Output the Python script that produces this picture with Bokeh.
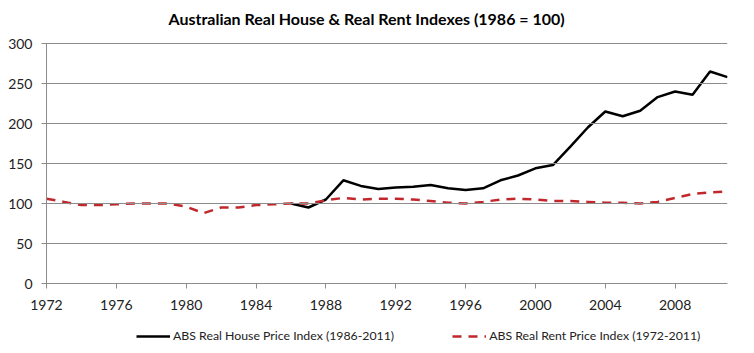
from bokeh.plotting import figure
from bokeh.models import Range1d, FixedTicker, Legend, LegendItem, LinearAxis
from bokeh.embed import file_html
from bokeh.resources import INLINE

house_years = list(range(1986, 2012))
house_index = [100, 95, 105, 129, 122, 118, 120, 121, 123, 119, 117, 119, 129, 135,
               144, 148, 171, 195, 215, 209, 216, 233, 240, 236, 265, 258]

rent_years = list(range(1972, 2012))
rent_index = [106, 102, 98, 98, 99, 100, 100, 100, 96, 88, 95, 95, 98, 99,
              100, 100, 104, 107, 105, 106, 106, 105, 103, 101, 100, 102, 105, 106,
              105, 103, 103, 102, 101, 101, 100, 102, 107, 112, 114, 115]

x_ticks = [1972, 1976, 1980, 1984, 1988, 1992, 1996, 2000, 2004, 2008]
y_ticks = [0, 50, 100, 150, 200, 250, 300]

title_text = "Australian Real House & Real Rent Indexes (1986 = 100)"
house_label = "ABS Real House Price Index (1986-2011)"
rent_label = "ABS Real Rent Price Index (1972-2011)"

FONT = "Lato"
PX_PER_YEAR = 681 / 39.0
PX_PER_UNIT = 0.8

# the frame covers the whole chart body; axes sit at fixed data locations
p = figure(width=754, height=353, frame_width=725, frame_height=316,
           output_backend="svg", toolbar_location=None,
           x_range=Range1d(1972 - 44 / PX_PER_YEAR, 2011),
           y_range=Range1d(-82.5, 300 + 10 / PX_PER_UNIT),
           x_axis_location=None, y_axis_location=None,
           min_border_left=2, min_border_right=27, min_border_top=33, min_border_bottom=4)

p.title.text = title_text
p.title.align = "left"
p.title.text_font = FONT
p.title.text_font_size = "16px"
p.title.text_font_style = "bold"
p.title.text_color = "#000000"
p.title.offset = 166
p.title.standoff = 12

p.outline_line_color = None
p.background_fill_color = "white"
p.border_fill_color = "white"
p.xgrid.grid_line_color = None
p.ygrid.grid_line_color = None

xax = LinearAxis(ticker=FixedTicker(ticks=x_ticks), fixed_location=0, bounds=(1972, 2011))
yax = LinearAxis(ticker=FixedTicker(ticks=y_ticks), fixed_location=1972, bounds=(0, 300))
p.add_layout(xax, "below")
p.add_layout(yax, "left")
for ax in (xax, yax):
    ax.axis_line_color = "#8c8c8c"
    ax.major_tick_line_color = "#8c8c8c"
    ax.major_tick_out = 5
    ax.major_tick_in = 0
    ax.minor_tick_line_color = None
    ax.major_label_text_font = FONT
    ax.major_label_text_font_size = "14px"
    ax.major_label_text_color = "#222222"
# horizontal gridlines: value-axis ticks drawn across the plot width
yax.major_tick_in = 681
xax.major_label_standoff = 11
yax.major_label_standoff = 9

r_house = p.line(house_years, house_index, line_color="black", line_width=2.5)
r_rent = p.line(rent_years, rent_index, line_color="#c0282d", line_width=2.5,
                line_dash="9 7")

legend = Legend(items=[LegendItem(label=house_label, renderers=[r_house]),
                       LegendItem(label=rent_label, renderers=[r_rent])],
                orientation="horizontal", location=(134, 6),
                border_line_color=None, background_fill_alpha=0,
                label_text_font=FONT, label_text_font_size="12.3px",
                label_text_color="#222222", label_height=14, glyph_height=14,
                glyph_width=34, label_standoff=3, spacing=58,
                padding=0, margin=0)
p.add_layout(legend, "center")

open("out.html", "w").write(file_html(p, INLINE))
